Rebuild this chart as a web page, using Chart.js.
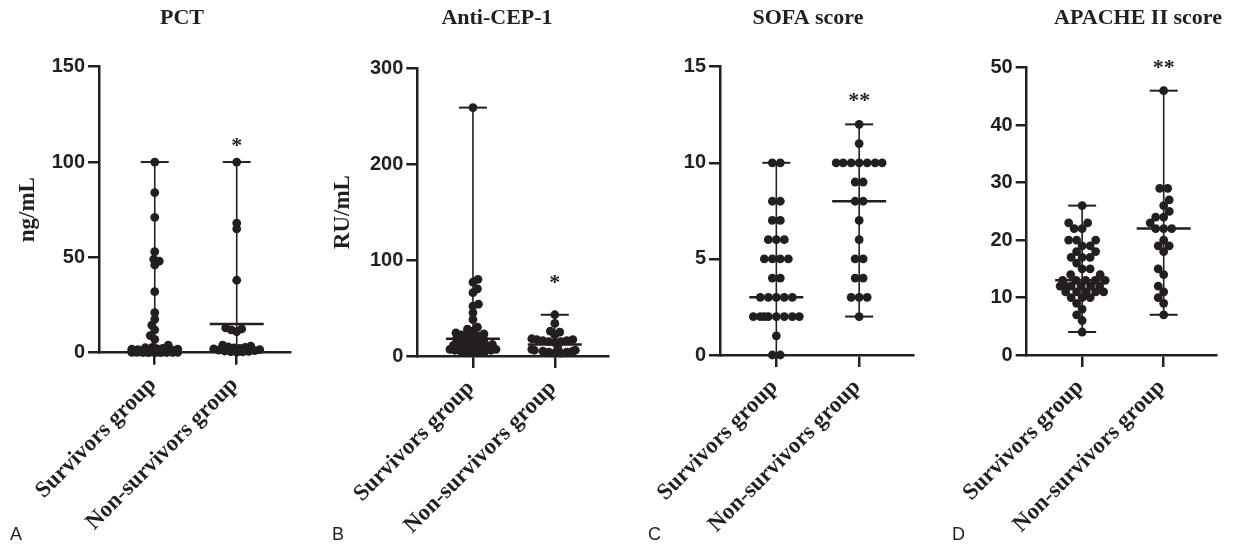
<!DOCTYPE html>
<html><head><meta charset="utf-8">
<script src="https://cdn.jsdelivr.net/npm/chart.js@4.4.1/dist/chart.umd.min.js"></script>
<style>
html,body{margin:0;padding:0;background:#fff;}
body{width:1233px;height:545px;position:relative;overflow:hidden;}
canvas{position:absolute;top:0;}
</style>
</head><body>
<canvas id="c0"></canvas><canvas id="c1"></canvas><canvas id="c2"></canvas><canvas id="c3"></canvas>
<script>
// ---------- data ----------
const categories = ['Survivors group', 'Non-survivors group'];
const panelTitles = ['PCT', 'Anti-CEP-1', 'SOFA score', 'APACHE II score'];
const yTitles = ['ng/mL', 'RU/mL', '', ''];
const yMax = [150, 300, 15, 50];
const yStep = [50, 100, 5, 10];
const panelLetters = ['A', 'B', 'C', 'D'];
const sigMarks = ['*', '*', '**', '**'];
const sigLevels = [110, 80, 13.4, 50.6];

const pctSurvivors = [100, 84, 71, 53, 49, 48, 46, 32, 21, 17.5, 14.5, 12, 9, 7, 4, 2.8, 2.6, 2.3, 2.1, 1.9, 1.8, 1.6, 1.5, 1.3, 1.2, 1.1, 1.0, 0.9, 0.8, 0.7, 0.7, 0.6, 0.5, 0.5, 0.4, 0.4, 0.3, 0.3, 0.2, 0.2, 0.2, 0.1, 0.1, 0.1, 0.08, 0.05, 0.05];
const pctNonSurvivors = [100, 68, 65, 38, 13, 12.5, 12, 11, 4, 3.5, 3, 2.8, 2.5, 2.2, 2, 1.6, 1.4, 1.1, 0.9, 0.7, 0.5, 0.4, 0.3];
const pctMedians = [0.6, 15];

const cepSurvivors = [259, 80, 77, 70, 66, 54, 52, 45, 38, 30, 28, 26, 24, 23, 22, 21, 20, 19, 18, 17, 16, 15, 14, 13, 12, 11, 11, 10, 9, 9, 8, 8, 7, 7, 6, 6, 5, 5, 4, 4, 3];
const cepNonSurvivors = [43, 34, 26, 25, 22, 18, 17, 17, 16, 16, 15, 15, 14, 8, 7, 6, 6, 5, 5, 4, 4, 3, 3];
const cepMedians = [18, 12];

const sofaSurvivors = [0, 0, 1, 2, 2, 2, 2, 2, 2, 2, 2, 3, 3, 3, 3, 3, 4, 4, 5, 5, 5, 5, 6, 6, 6, 7, 7, 8, 8, 10, 10];
const sofaNonSurvivors = [12, 11, 10, 10, 10, 10, 10, 10, 10, 9, 9, 8, 8, 7, 6, 5, 5, 4, 4, 3, 3, 3, 2];
const sofaMedians = [3, 8];

const apacheSurvivors = [26, 23, 23, 22, 22, 20, 20, 20, 19, 19, 18, 18, 17, 17, 17, 16, 15, 15, 14, 14, 13, 13, 13, 13, 13, 12, 12, 12, 12, 12, 12, 11, 11, 11, 11, 11, 10, 10, 10, 9, 8, 7, 6, 4];
const apacheNonSurvivors = [46, 29, 29, 27, 26, 25, 24, 24, 23, 22, 22, 22, 20, 19, 19, 18, 15, 14, 12, 11, 10, 9, 7];
const apacheMedians = [13, 22];

// ---------- layout / style ----------
const INK = '#231f20';
const panels = [
  {groups: [pctSurvivors, pctNonSurvivors], med: pctMedians, gap: 5.6},
  {groups: [cepSurvivors, cepNonSurvivors], med: cepMedians, gap: 5.6},
  {groups: [sofaSurvivors, sofaNonSurvivors], med: sofaMedians, gap: 7.8},
  {groups: [apacheSurvivors, apacheNonSurvivors], med: apacheMedians, gap: 7.8}
].map((p, i) => Object.assign(p, {title: panelTitles[i], yTitle: yTitles[i], max: yMax[i], step: yStep[i], sig: sigMarks[i], sigY: sigLevels[i], letter: panelLetters[i]}));

const geom = [
  {left: 0,   width: 310, axisX: 99,    right: 290,   top: 66.7, bottom: 352.7, titleX: 182,  yTitleX: 28,  letterX: 10},
  {left: 310, width: 310, axisX: 417.3, right: 608,   top: 68.3, bottom: 356,   titleX: 497,  yTitleX: 343, letterX: 332},
  {left: 620, width: 305, axisX: 720,   right: 913,   top: 66.7, bottom: 355,   titleX: 808,  yTitleX: 0,   letterX: 648},
  {left: 925, width: 308, axisX: 1026.7,right: 1216.7,top: 67.7, bottom: 355,   titleX: 1138, yTitleX: 0,   letterX: 952}
];
const H = 545;
const DOT_R = 4.4, MAX_OFF = 23;

function swarm(vals, ys, D) {
  const items = vals.map((v, i) => ({v, i, py: ys.getPixelForValue(v), ox: 0}));
  const order = items.slice().sort((a, b) => a.v - b.v);
  const placed = [];
  for (const it of order) {
    const near = placed.filter(p => Math.abs(p.py - it.py) < D);
    const ok = x => near.every(p => Math.hypot(p.ox - x, p.py - it.py) >= D - 0.01);
    let best = null;
    for (let k = 0; k <= MAX_OFF * 2 && best === null; k++) {
      const s = k / 2;
      const cands = s === 0 ? [0] : (placed.length % 2 ? [s, -s] : [-s, s]);
      for (const x of cands) { if (ok(x)) { best = x; break; } }
    }
    if (best === null) {
      let bm = -1; best = 0;
      for (let s = -MAX_OFF; s <= MAX_OFF; s += 0.5) {
        const m = Math.min(...near.map(p => Math.hypot(p.ox - s, p.py - it.py)));
        if (m > bm + 0.01) { bm = m; best = s; }
      }
    }
    it.ox = best; placed.push(it);
  }
  const byVal = {};
  items.forEach(it => (byVal[it.v] = byVal[it.v] || []).push(it));
  Object.values(byVal).forEach(row => {
    if (row.length < 2) return;
    const mean = row.reduce((s, r) => s + r.ox, 0) / row.length;
    const others = items.filter(o => o.v !== row[0].v);
    const good = row.every(r => {
      const nx = r.ox - mean;
      if (Math.abs(nx) > MAX_OFF + 0.01) return false;
      return others.every(o => Math.hypot(o.ox - nx, o.py - r.py) >= D - 0.01 || Math.hypot(o.ox - r.ox, o.py - r.py) < D - 0.01);
    });
    if (good) row.forEach(r => r.ox -= mean);
  });
  return items.map(it => it.ox);
}

function line(ctx, x1, y1, x2, y2) { ctx.beginPath(); ctx.moveTo(x1, y1); ctx.lineTo(x2, y2); ctx.stroke(); }

function makeChart(i) {
  const p = panels[i], g = geom[i];
  const cv = document.getElementById('c' + i);
  cv.width = g.width; cv.height = H; cv.style.left = g.left + 'px';
  cv.style.width = g.width + 'px'; cv.style.height = H + 'px';

  const rangePlugin = {
    id: 'ranges' + i,
    afterDatasetsDraw(chart) {
      const ctx = chart.ctx, xs = chart.scales.x, ys = chart.scales.y;
      ctx.save(); ctx.strokeStyle = INK;
      p.groups.forEach((vals, k) => {
        const cx = xs.getPixelForValue(k + 1);
        const lo = ys.getPixelForValue(Math.min(...vals));
        const hi = ys.getPixelForValue(Math.max(...vals));
        const md = ys.getPixelForValue(p.med[k]);
        ctx.lineWidth = 1.6; line(ctx, cx, lo, cx, hi);
        ctx.lineWidth = 2; line(ctx, cx - 14, lo, cx + 14, lo); line(ctx, cx - 14, hi, cx + 14, hi);
        ctx.lineWidth = 2.5; line(ctx, cx - 27, md, cx + 27, md);
      });
      ctx.restore();
    }
  };
  const decorPlugin = {
    id: 'decor' + i,
    afterDraw(chart) {
      const ctx = chart.ctx, xs = chart.scales.x, ys = chart.scales.y;
      ctx.save(); ctx.fillStyle = INK;
      ctx.font = 'bold 22px "Liberation Serif"';
      ctx.textAlign = 'center'; ctx.textBaseline = 'middle';
      ctx.fillText(p.title, g.titleX - g.left, 18);
      ctx.textBaseline = 'alphabetic';
      const m = ctx.measureText(p.sig);
      const sy = ys.getPixelForValue(p.sigY);
      ctx.fillText(p.sig, xs.getPixelForValue(2), sy + (m.actualBoundingBoxAscent - m.actualBoundingBoxDescent) / 2);
      ctx.font = '18px "Liberation Sans"'; ctx.textAlign = 'left';
      ctx.fillText(p.letter, g.letterX - g.left, 540);
      ctx.restore();
    }
  };

  const chart = new Chart(cv, {
    type: 'scatter',
    data: {
      datasets: p.groups.map((vals, k) => ({
        data: vals.map(v => ({x: k + 1, y: v})),
        backgroundColor: INK, borderColor: INK, borderWidth: 0,
        pointRadius: DOT_R, pointHoverRadius: DOT_R, clip: false
      }))
    },
    options: {
      responsive: false, animation: false, events: [],
      layout: {autoPadding: false, padding: {left: 0, top: g.top, right: g.left + g.width - g.right, bottom: 0}},
      plugins: {legend: {display: false}, tooltip: {enabled: false}, title: {display: false}},
      scales: {
        x: {
          type: 'linear', min: 0.32, max: 2.65,
          afterBuildTicks: ax => { ax.ticks = categories.map((c, k) => ({value: k + 1})); },
          afterFit: ax => { ax.height = H - g.bottom; },
          grid: {display: true, drawOnChartArea: false, drawTicks: true, tickLength: 12, tickWidth: 2.5, lineWidth: 2.5, color: INK},
          border: {display: true, width: 2.5, color: INK},
          ticks: {
            autoSkip: false, maxRotation: 45, minRotation: 45, padding: 7, labelOffset: -2, color: INK,
            font: {family: 'Liberation Serif', weight: 'bold', size: 23},
            callback: v => categories[v - 1] || ''
          }
        },
        y: {
          min: 0, max: p.max,
          afterFit: ax => { ax.width = g.axisX - g.left; },
          grid: {display: true, drawOnChartArea: false, drawTicks: true, tickLength: 11, tickWidth: 2.5, lineWidth: 2.5, color: INK},
          border: {display: true, width: 2.5, color: INK},
          ticks: {stepSize: p.step, padding: 3, color: INK, font: {family: 'Liberation Sans', weight: 'bold', size: 20}},
          title: {
            display: !!p.yTitle, text: p.yTitle, color: INK,
            font: {family: 'Liberation Serif', weight: 'bold', size: 23},
            padding: {top: Math.max(0, g.yTitleX - g.left - 13.8), bottom: 0}
          }
        }
      }
    },
    plugins: [rangePlugin, decorPlugin]
  });

  const xs = chart.scales.x, ys = chart.scales.y;
  const pxPerX = xs.getPixelForValue(2) - xs.getPixelForValue(1);
  chart.data.datasets.forEach((ds, k) => {
    const offs = swarm(p.groups[k], ys, p.gap);
    ds.data = p.groups[k].map((v, j) => ({x: k + 1 + offs[j] / pxPerX, y: v}));
  });
  chart.update('none');
}

[0, 1, 2, 3].forEach(makeChart);
</script>
</body></html>
